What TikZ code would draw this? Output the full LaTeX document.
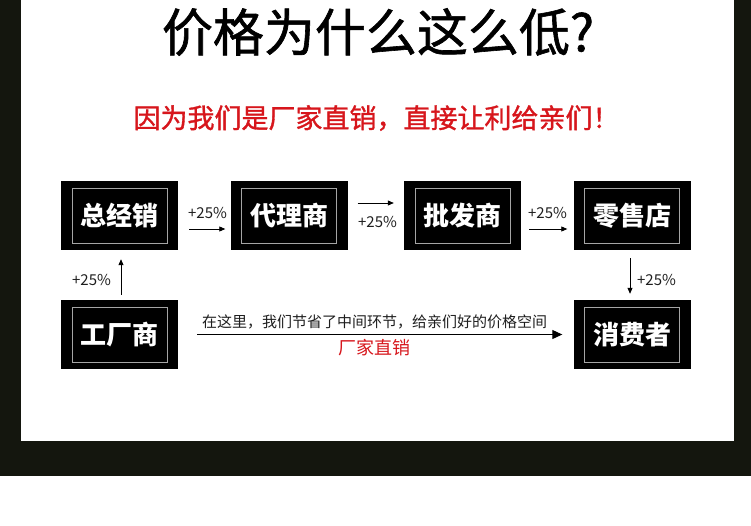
\documentclass[tikz,border=0pt]{standalone}
\usepackage{fontspec}
\newfontfamily\cjk{Noto Sans CJK SC}
\newfontfamily\cjkmid{Noto Sans CJK SC}[FakeBold=1.2]
\usetikzlibrary{arrows.meta}
\definecolor{bgdark}{RGB}{20,22,14}
\definecolor{framegray}{RGB}{165,165,165}
\definecolor{subred}{RGB}{215,22,28}
\definecolor{txtdark}{RGB}{30,30,30}
\tikzset{
  chan/.style={fill=black, minimum width=117pt, minimum height=69pt, inner sep=0pt,
    text=white, font=\cjk\bfseries\fontsize{26}{26}\selectfont,
    path picture={\draw[framegray, line width=0.8pt]
      ([shift={(11pt,-7pt)}]path picture bounding box.north west) rectangle
      ([shift={(-11pt,7pt)}]path picture bounding box.south east);}},
  pct/.style={font=\cjk\fontsize{15}{15}\selectfont, text=txtdark, inner sep=0pt},
  flow/.style={-{Triangle[length=6pt,width=5pt]}, line width=0.8pt, black},
  bigflow/.style={-{Triangle[length=10pt,width=9pt]}, line width=1pt, black},
  titletext/.style={font=\cjkmid\fontsize{51}{51}\selectfont, text=black, inner sep=0pt},
  subtext/.style={font=\cjkmid\fontsize{27}{27}\selectfont, text=subred, inner sep=0pt},
  notetext/.style={font=\cjk\fontsize{15}{15}\selectfont, text=txtdark, inner sep=0pt},
  redtext/.style={font=\cjk\fontsize{18}{18}\selectfont, text=subred, inner sep=0pt},
}
\begin{document}
\begin{tikzpicture}[x=1pt,y=-1pt]
\fill[white] (0,0) rectangle (751,525);
\fill[bgdark] (0,0) rectangle (751,476);
\fill[white] (21,0) rectangle (734,441);
\useasboundingbox (0,0) rectangle (751,525);

\node[titletext] (title) at (378,32) {价格为什么这么低?};
\node[subtext] (sub) at (376.5,118) {因为我们是厂家直销，直接让利给亲们！};

\node[chan] (zjx) at (119.5,215.5) {总经销};
\node[chan] (dls) at (289,215.5) {代理商};
\node[chan] (pfs) at (462.5,215.5) {批发商};
\node[chan] (lsd) at (632,215.5) {零售店};
\node[chan] (gcs) at (119.5,334.5) {工厂商};
\node[chan] (xfz) at (632,334.5) {消费者};

\draw[flow] ([xshift=11pt,yshift=-13.5pt]zjx.east) -- ([xshift=-5pt,yshift=-13.5pt]dls.west);
\node[pct] (p1) at (207.5,213) {+25\%};
\draw[flow] ([xshift=10pt,yshift=12.5pt]dls.east) -- ([xshift=-10pt,yshift=12.5pt]pfs.west);
\node[pct] (p2) at (377.5,222) {+25\%};
\draw[flow] ([xshift=8pt,yshift=-13.5pt]pfs.east) -- ([xshift=-6pt,yshift=-13.5pt]lsd.west);
\node[pct] (p3) at (547.5,213) {+25\%};
\draw[flow] ([xshift=-2pt,yshift=-8pt]lsd.south) -- ([xshift=-2pt,yshift=6pt]xfz.north);
\node[pct] (p4) at (656.5,280) {+25\%};
\draw[flow] ([xshift=1.5pt,yshift=5pt]gcs.north) -- ([xshift=1.5pt,yshift=-9pt]zjx.south);
\node[pct] (p5) at (91.5,280) {+25\%};

\draw[bigflow] ([xshift=19pt]gcs.east) -- ([xshift=-11pt]xfz.west);
\node[notetext] (note) at (374.5,322) {在这里，我们节省了中间环节，给亲们好的价格空间};
\node[redtext] (direct) at (374,348) {厂家直销};
\end{tikzpicture}
\end{document}
